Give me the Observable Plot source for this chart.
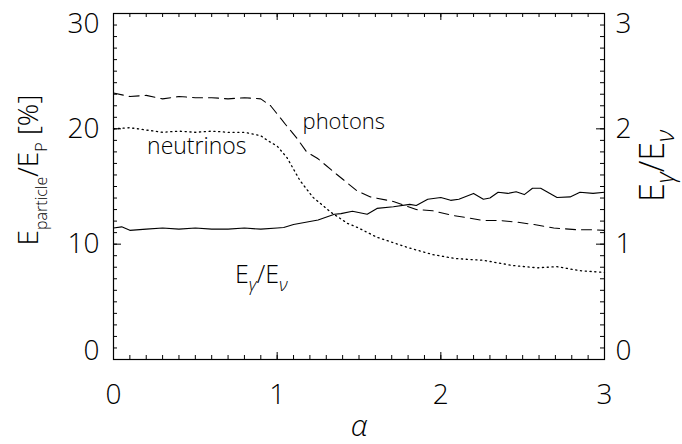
<!DOCTYPE html>
<html>
<head>
<meta charset="utf-8">
<script src="https://cdn.jsdelivr.net/npm/d3@7"></script>
<script src="https://cdn.jsdelivr.net/npm/@observablehq/plot@0.6"></script>
<style>
  html, body { margin: 0; padding: 0; background: #fff; }
  #chart svg { display: block; }
</style>
</head>
<body>
<div id="chart"></div>
<script>
// ---- data ----
const alphaPhotons = [0, 0.1, 0.2, 0.3, 0.4, 0.5, 0.6, 0.7, 0.8, 0.9, 0.96, 1.05, 1.12, 1.18, 1.25, 1.36, 1.49, 1.57, 1.71, 1.85, 1.95, 2.07, 2.16, 2.26, 2.36, 2.47, 2.57, 2.69, 2.83, 2.91, 3.0];
const photonsPct   = [23.1, 22.8, 22.9, 22.6, 22.8, 22.7, 22.7, 22.6, 22.7, 22.6, 22.0, 20.4, 19.2, 18.0, 17.4, 16.1, 14.6, 14.1, 13.7, 13.0, 12.9, 12.5, 12.3, 12.05, 12.05, 11.9, 11.7, 11.4, 11.25, 11.25, 11.2];

const alphaNeutrinos = [0, 0.1, 0.2, 0.3, 0.4, 0.5, 0.6, 0.7, 0.8, 0.9, 0.94, 1.0, 1.06, 1.14, 1.22, 1.33, 1.43, 1.49, 1.61, 1.80, 1.95, 2.09, 2.26, 2.44, 2.59, 2.71, 2.85, 3.0];
const neutrinosPct   = [20.0, 20.1, 19.9, 19.7, 19.8, 19.7, 19.8, 19.7, 19.7, 19.4, 19.0, 18.5, 17.5, 15.5, 14.05, 12.75, 11.8, 11.45, 10.6, 9.7, 9.1, 8.75, 8.6, 8.15, 7.95, 8.05, 7.7, 7.55];

const alphaRatio  = [0, 0.05, 0.1, 0.2, 0.3, 0.4, 0.5, 0.6, 0.7, 0.8, 0.9, 1.0, 1.04, 1.1, 1.25, 1.35, 1.39, 1.46, 1.55, 1.61, 1.71, 1.81, 1.85, 1.92, 2.0, 2.06, 2.11, 2.2, 2.26, 2.3, 2.35, 2.41, 2.46, 2.51, 2.56, 2.61, 2.71, 2.79, 2.85, 2.93, 3.0];
const ratioValues = [1.14, 1.15, 1.12, 1.13, 1.14, 1.13, 1.14, 1.13, 1.13, 1.14, 1.13, 1.14, 1.145, 1.17, 1.21, 1.26, 1.265, 1.285, 1.26, 1.31, 1.325, 1.345, 1.335, 1.39, 1.405, 1.38, 1.39, 1.44, 1.39, 1.40, 1.45, 1.44, 1.455, 1.43, 1.485, 1.485, 1.405, 1.41, 1.45, 1.44, 1.45];

const xTickLabels = [0, 1, 2, 3];
const yLeftTicks  = [0, 10, 20, 30];
const yRightTicks = [0, 1, 2, 3];

// ---- layout ----
const W = 682, H = 444;
const mL = 113, mR = 78, mT = 13, mB = 85;
const fw = W - mL - mR, fh = H - mT - mB;
const rightFactor = 10; // right axis (E_γ/E_ν) drawn on the left % scale ×10
const yMax = 30, yMin = 0;

const xMinor = d3.range(0, 30.5, 1).map(d => d / 10);
const yMinor = d3.range(0, 30.5, 1);

const FONT = "'Open Sans', 'DejaVu Sans', sans-serif";

// y tick labels: top one hangs below the frame top, bottom one sits above the frame bottom
function yLabels(values, fmt, side) {
  const common = side === "left"
    ? { frameAnchor: "left", textAnchor: "end", dx: -14 }
    : { frameAnchor: "right", textAnchor: "start", dx: 11 };
  const groups = [
    { f: v => v === yMax, la: "top" },
    { f: v => v > yMin && v < yMax, la: "middle" },
    { f: v => v === yMin, la: "bottom" }
  ];
  return groups.map(g => Plot.text(values.filter(v => g.f(v)), {
    ...common, y: d => d, text: fmt, lineAnchor: g.la, fontSize: 28
  }));
}

const chart = Plot.plot({
  width: W, height: H,
  marginLeft: mL, marginRight: mR, marginTop: mT, marginBottom: mB,
  style: { fontFamily: FONT, fontWeight: 300, fontSize: "28px", background: "white", color: "black" },
  x: { domain: [0, 3], axis: null },
  y: { domain: [yMin, yMax], axis: null },
  marks: [
    // minor / major ticks (inward)
    Plot.tickX(xMinor, { x: d => d, insetTop: fh - 4, stroke: "black" }),
    Plot.tickX(xMinor, { x: d => d, insetBottom: fh - 4, stroke: "black" }),
    Plot.tickX([1, 2], { x: d => d, insetTop: fh - 7, stroke: "black" }),
    Plot.tickX([1, 2], { x: d => d, insetBottom: fh - 7, stroke: "black" }),
    Plot.tickY(yMinor, { y: d => d, insetRight: fw - 4, stroke: "black" }),
    Plot.tickY(yMinor, { y: d => d, insetLeft: fw - 4, stroke: "black" }),
    Plot.tickY([10, 20], { y: d => d, insetRight: fw - 8, stroke: "black" }),
    Plot.tickY([10, 20], { y: d => d, insetLeft: fw - 8, stroke: "black" }),
    Plot.frame({ stroke: "black", strokeWidth: 1.2 }),
    // axis labels
    Plot.text(xTickLabels, { x: d => d, frameAnchor: "bottom", lineAnchor: "top", dy: 25, text: d => String(d), fontSize: 28 }),
    ...yLabels(yLeftTicks, d => String(d), "left"),
    ...yLabels(yRightTicks.map(d => d * rightFactor), d => String(d / rightFactor), "right"),
    // curves
    Plot.line(photonsPct, { x: (d, i) => alphaPhotons[i], y: d => d, stroke: "black", strokeWidth: 1.1, strokeDasharray: "10,6" }),
    Plot.line(neutrinosPct, { x: (d, i) => alphaNeutrinos[i], y: d => d, stroke: "black", strokeWidth: 1.3, strokeDasharray: "1.2,3.6" }),
    Plot.line(ratioValues, { x: (d, i) => alphaRatio[i], y: d => d * rightFactor, stroke: "black", strokeWidth: 1.1 }),
    // annotations
    Plot.text(["photons"], { x: 1.155, y: 20.6, text: d => d, textAnchor: "start", fontSize: 22 }),
    Plot.text(["neutrinos"], { x: 0.205, y: 18.5, text: d => d, textAnchor: "start", fontSize: 23 }),
    Plot.text(["α"], { frameAnchor: "bottom", lineAnchor: "middle", dy: 67, text: d => d, fontStyle: "italic", fontSize: 30 })
  ]
});

document.getElementById("chart").appendChild(chart);

// rich-text labels with subscripts
const svg = d3.select(chart);
const xs = chart.scale("x"), ys = chart.scale("y");

function subText(g, parts, base, sub, shift, anchor) {
  const t = g.append("text").attr("fill", "black").attr("text-anchor", anchor)
    .style("font-family", FONT).style("font-weight", 300).attr("font-size", base);
  let cur = 0;
  for (const p of parts) {
    const ts = t.append("tspan").text(p.t);
    const target = p.s ? shift : 0;
    if (target !== cur) { ts.attr("dy", target - cur); cur = target; }
    ts.attr("font-size", p.s ? sub : base);
    if (p.i) ts.style("font-style", "italic");
  }
  return t;
}

// E_γ / E_ν inside the plot
subText(svg.append("g").attr("transform", `translate(${xs.apply(0.745)},${ys.apply(6.6)})`),
  [{t: "E"}, {t: "γ", s: true, i: true}, {t: "/"}, {t: "E"}, {t: "ν", s: true, i: true}], 25, 18, 8, "start");

// left axis title
subText(svg.append("g").attr("transform", `translate(38,170) rotate(-90)`),
  [{t: "E"}, {t: "particle", s: true}, {t: "/"}, {t: "E"}, {t: "P", s: true}, {t: " [%]"}], 28, 16, 9, "middle");

// right axis title
subText(svg.append("g").attr("transform", `translate(664,166) rotate(-90)`),
  [{t: "E"}, {t: "γ", s: true, i: true}, {t: "/"}, {t: "E"}, {t: "ν", s: true, i: true}], 34, 25, 10, "middle");
</script>
</body>
</html>
